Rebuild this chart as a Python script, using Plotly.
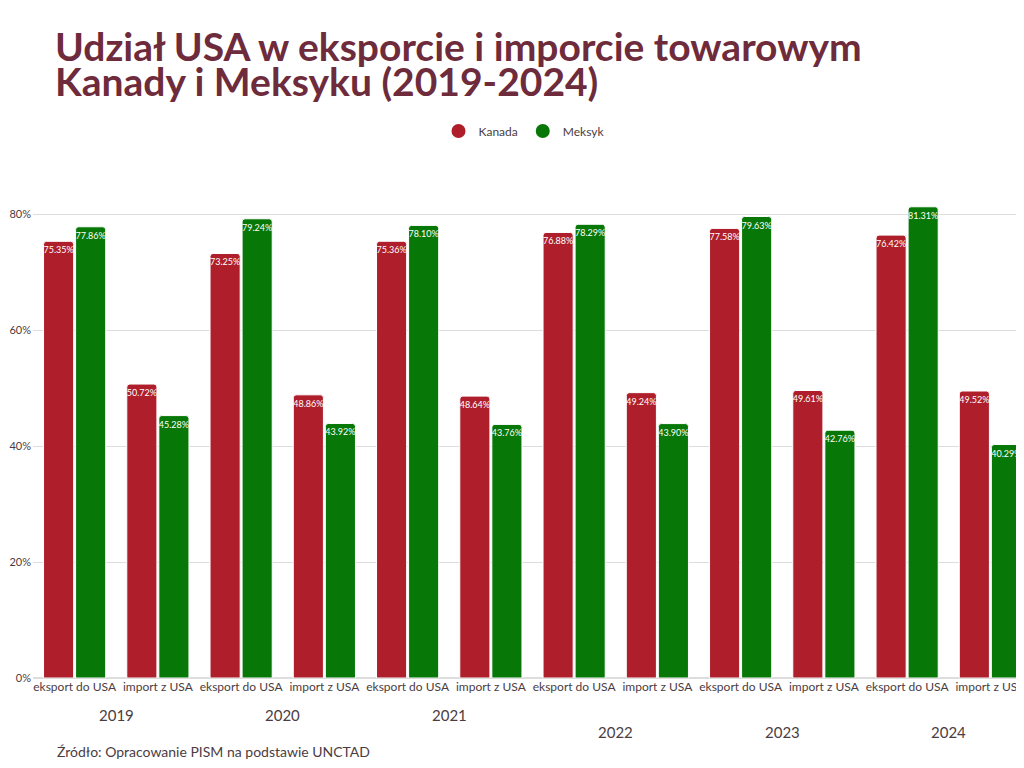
import plotly.graph_objects as go

years = ["2019", "2020", "2021", "2022", "2023", "2024"]
flows = ["eksport do USA", "import z USA"]

kanada = [75.35, 50.72, 73.25, 48.86, 75.36, 48.64, 76.88, 49.24, 77.58, 49.61, 76.42, 49.52]
meksyk = [77.86, 45.28, 79.24, 43.92, 78.10, 43.76, 78.29, 43.90, 79.63, 42.76, 81.31, 40.29]

y_ticks = [0, 20, 40, 60, 80]

RED = "#AE1F2B"
GREEN = "#077708"
TITLE_COL = "#6E2B3B"
TEXT_COL = "#4B3C42"
FONT = "Lato"

# wymiary obszaru wykresu (px)
L, R, T, B = 25, 0, 160, 98
PW, PH = 1024 - L - R, 768 - T - B

# unikalne kategorie: rok|przeplyw
cats = [f"{y}|{f}" for y in years for f in flows]
tick_text = [f for y in years for f in flows]

fig = go.Figure()


def add_bars(name, vals, color):
    fig.add_trace(go.Bar(
        x=cats, y=vals, name=name,
        marker=dict(color=color, line=dict(color="white", width=1), cornerradius=3),
        text=[f"{v:.2f}%" for v in vals],
        textposition="inside", insidetextanchor="end", textangle=0,
        constraintext="none",
        textfont=dict(family=FONT, size=9, color="white"),
        showlegend=False, hoverinfo="skip",
    ))
    # legenda z kolkami
    fig.add_trace(go.Scatter(
        x=[None], y=[None], mode="markers", name=name,
        marker=dict(color=color, size=14, symbol="circle"),
    ))


add_bars("Kanada", kanada, RED)
add_bars("Meksyk", meksyk, GREEN)


def px_x(x):
    return (x - L) / PW


def px_y(y):
    return (768 - B - y) / PH


# etykiety lat pod osia (dwa rzedy jak w oryginale)
year_py = [707, 707, 707, 724, 724, 724]
for i, y in enumerate(years):
    fig.add_annotation(
        x=2 * i + 0.5, y=px_y(year_py[i]), xref="x", yref="paper",
        text=y, showarrow=False, yanchor="middle",
        font=dict(family=FONT, size=15, color=TEXT_COL),
    )

fig.add_annotation(
    x=px_x(47), y=px_y(743), xref="paper", yref="paper",
    text="Źródło: Opracowanie PISM na podstawie UNCTAD",
    showarrow=False, xanchor="left", yanchor="middle",
    font=dict(family=FONT, size=14, color=TEXT_COL),
)

# tytul w dwoch liniach
for line, ypx in [("Udział USA w eksporcie i imporcie towarowym", 38),
                  ("Kanady i Meksyku (2019-2024)", 73)]:
    fig.add_annotation(
        x=px_x(45), y=px_y(ypx), xref="paper", yref="paper",
        text=f"<b>{line}</b>", showarrow=False, xanchor="left", yanchor="middle",
        font=dict(family=FONT, size=39, color=TITLE_COL),
    )

fig.update_layout(
    width=1024, height=768,
    paper_bgcolor="white", plot_bgcolor="white",
    margin=dict(l=L, r=R, t=T, b=B, autoexpand=False),
    font=dict(family=FONT, color=TEXT_COL),
    legend=dict(
        orientation="h", x=px_x(516), xanchor="center", y=px_y(123), yanchor="middle",
        font=dict(family=FONT, size=12, color=TEXT_COL),
    ),
    barmode="group", bargap=0.23, bargroupgap=0.06,
    xaxis=dict(
        tickmode="array", tickvals=cats, ticktext=tick_text,
        tickfont=dict(family=FONT, size=12, color=TEXT_COL),
        showgrid=False, showline=False, ticks="",
    ),
    yaxis=dict(
        range=[0, 88], tickvals=y_ticks, ticktext=[f"{t}%" for t in y_ticks],
        showgrid=True, gridcolor="#DDDDDD", gridwidth=1, zeroline=True,
        zerolinecolor="#DDDDDD", ticks="", ticklabelstandoff=1,
        tickfont=dict(family=FONT, size=11, color=TEXT_COL),
    ),
)

fig.write_html("out.html")
